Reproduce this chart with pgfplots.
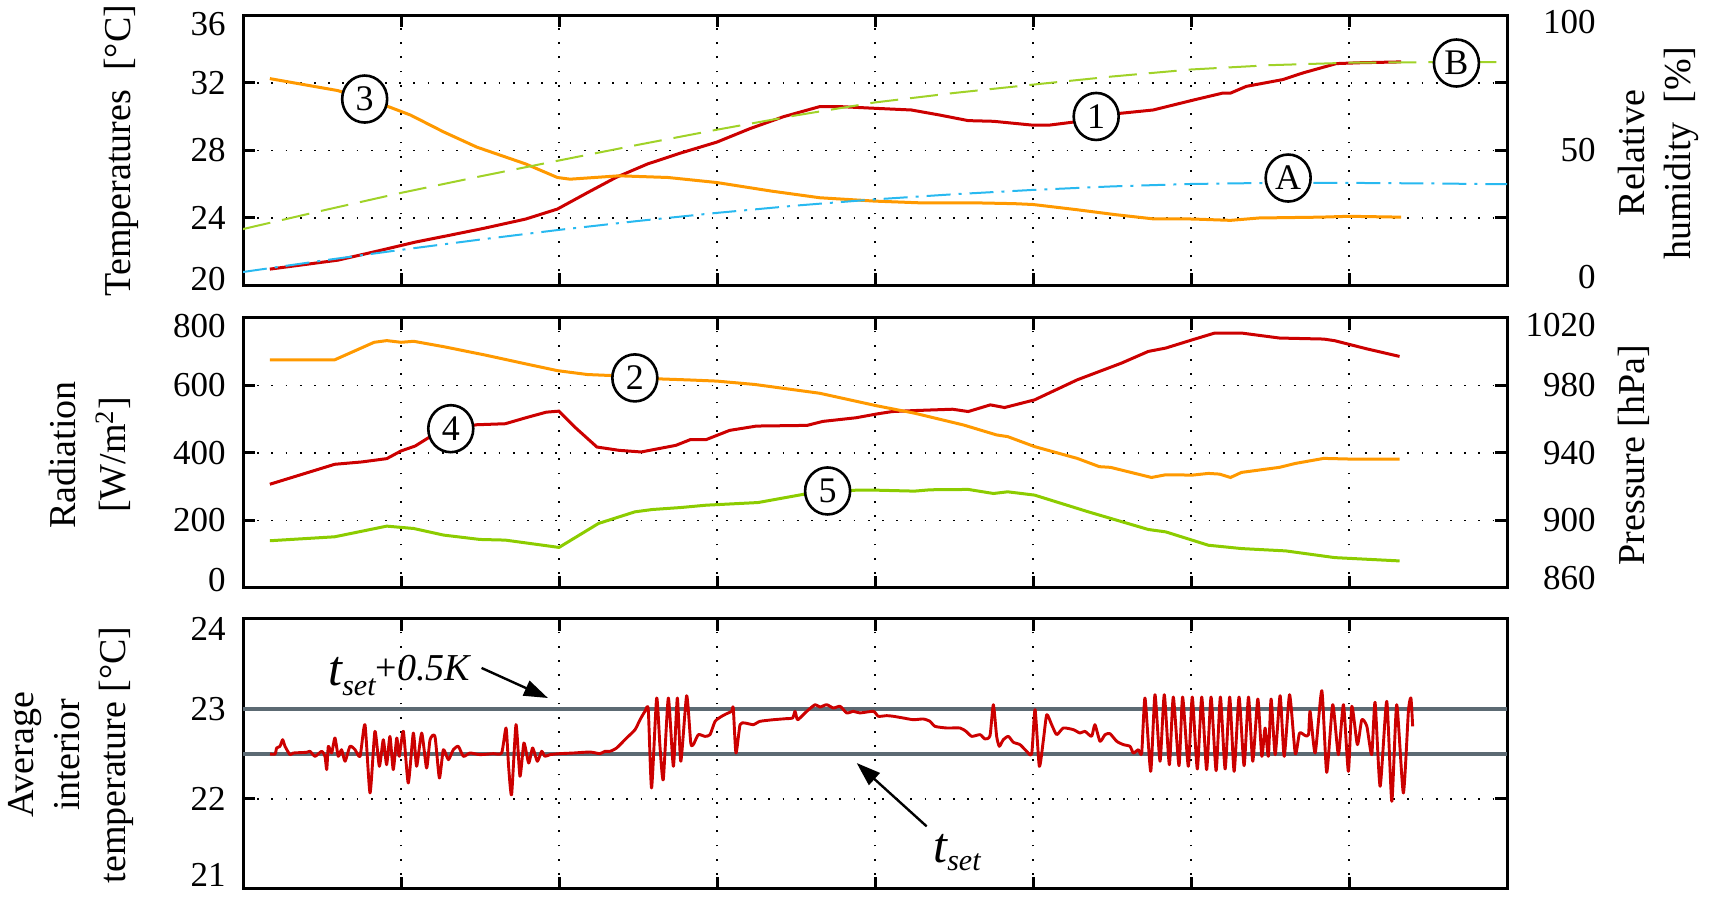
\documentclass[border=0pt]{standalone}
\usepackage{fontspec}
\setmainfont{Liberation Serif}
\usepackage{pgfplots}
\pgfplotsset{compat=1.18}
\usetikzlibrary{arrows.meta,shapes.geometric}
\definecolor{cred}{RGB}{204,0,0}
\definecolor{corange}{RGB}{255,153,0}
\definecolor{cgreen}{RGB}{140,204,0}
\definecolor{cgreenB}{RGB}{160,210,40}
\definecolor{cblue}{RGB}{40,185,240}
\definecolor{cgray}{RGB}{92,106,115}
\newcommand{\up}[2]{\raisebox{#1}[\height][\depth]{#2}}
\pgfplotsset{
 panel/.style={
  scale only axis, width=632pt, height=135pt,
  xmin=0, xmax=8, xtick={1,2,3,4,5,6,7}, xticklabels={},
  grid=major,
  major grid style={black, line width=0.9pt, dash pattern=on 0.9pt off 6.2pt},
  axis line style={line width=1.5pt},
  every tick/.style={black, line width=1.5pt},
  major tick length=6pt,
  tick align=inside,
  xtick pos=both, ytick pos=both, yticklabel pos=left,
  ticklabel style={font=\fontsize{17.5}{17.5}\selectfont},
  yticklabel style={inner sep=0pt, anchor=east, xshift=-8.5pt},
  /pgf/number format/assume math mode=true,
  /pgf/number format/1000 sep={},
 },
 panelright/.style={
  scale only axis, width=632pt, height=135pt,
  xmin=0, xmax=8, hide x axis,
  axis y line*=right, y axis line style={draw=none},
  major tick length=0pt,
  ticklabel style={font=\fontsize{17.5}{17.5}\selectfont},
  yticklabel style={inner sep=0pt, anchor=east, xshift=44.5pt},
  /pgf/number format/assume math mode=true,
  /pgf/number format/1000 sep={},
 },
}
\tikzset{circ/.style={ellipse, draw=black, line width=1.3pt, fill=white, inner sep=0pt,
  minimum width=22.5pt, minimum height=23.5pt, font=\fontsize{18}{18}\selectfont}}
\begin{document}
\begin{tikzpicture}
\useasboundingbox (0,0) rectangle (857.5pt,-448.5pt);
% ---------------- TOP PANEL ----------------
\begin{axis}[panel, at={(121.5pt,-7.75pt)}, anchor=north west,
  ymin=20, ymax=36, ytick={20,24,28,32,36},
  yticklabels={\up{3pt}{20},24,28,32,\up{-4.5pt}{36}}]
\addplot[cred, line width=1.5pt] coordinates {
(0.17,20.97)(0.6,21.5)(0.86,22.06)(1.09,22.57)(1.32,23.0)(1.53,23.4)(1.79,23.94)
(1.99,24.53)(2.18,25.5)(2.36,26.4)(2.56,27.2)(2.77,27.85)(3.0,28.5)(3.21,29.3)
(3.42,30.0)(3.65,30.6)(3.78,30.6)(4.0,30.5)(4.23,30.4)(4.41,30.1)(4.59,29.77)
(4.75,29.73)(5.0,29.5)(5.1,29.5)(5.27,29.7)(5.55,30.2)(5.76,30.4)(6.02,31.0)
(6.2,31.4)(6.25,31.4)(6.35,31.8)(6.58,32.2)(6.71,32.6)(6.92,33.15)(7.07,33.2)(7.33,33.25)};
\addplot[corange, line width=1.5pt] coordinates {
(0.17,32.26)(0.6,31.55)(0.92,30.6)(1.06,30.1)(1.27,29.1)(1.48,28.2)(1.79,27.2)
(1.99,26.4)(2.07,26.3)(2.38,26.5)(2.69,26.4)(3.0,26.1)(3.34,25.6)(3.65,25.2)
(4.0,25.0)(4.28,24.9)(4.62,24.9)(4.88,24.85)(5.0,24.8)(5.27,24.5)(5.52,24.2)
(5.76,23.95)(6.01,23.94)(6.25,23.86)(6.43,24.0)(6.82,24.05)(7.0,24.1)(7.33,24.05)};
\end{axis}
\begin{axis}[panelright, at={(121.5pt,-7.75pt)}, anchor=north west,
  ymin=0, ymax=100, ytick={0,50,100},
  yticklabels={\up{4pt}{0},50,\up{-3.5pt}{100}}]
\addplot[cgreenB, line width=1pt, dash pattern=on 14pt off 6pt] coordinates {
(0,20.9)(0.5,27.7)(1,34.3)(1.5,40.4)(2,46.3)(2.5,52.1)(3,57.7)(3.5,63)(4,67.8)
(4.5,71.3)(5,74.4)(5.5,77.4)(6,80)(6.5,81.6)(7,82.5)(7.5,82.7)(8,82.7)};
\addplot[cblue, line width=1pt, dash pattern=on 12pt off 4pt on 1.5pt off 4pt] coordinates {
(0,5)(0.5,9.2)(1,13.2)(1.5,17)(2,20.6)(2.5,23.9)(3,26.9)(3.5,29.6)(4,31.9)
(4.5,33.8)(5,35.4)(5.5,36.7)(6,37.6)(6.5,38)(7,38)(7.5,37.8)(8,37.5)};
\node[circ] at (axis cs:0.77,69.06) {3};
\node[circ] at (axis cs:5.40,62.6) {1};
\node[circ] at (axis cs:6.615,39.8) {A};
\node[circ] at (axis cs:7.68,82.4) {B};
\end{axis}
% ---------------- MIDDLE PANEL ----------------
\begin{axis}[panel, at={(121.5pt,-159pt)}, anchor=north west,
  ymin=0, ymax=800, ytick={0,200,400,600,800},
  yticklabels={\up{4pt}{0},200,400,600,\up{-4pt}{800}}]
\addplot[cred, line width=1.5pt] coordinates {
(0.17,307.4)(0.58,366.5)(0.75,373.4)(0.91,383.3)(1.0,406)(1.09,420.7)(1.18,447)
(1.3,470)(1.48,483.7)(1.66,486.7)(1.79,504.4)(1.92,521)(2.0,524)(2.1,476.8)
(2.24,417.7)(2.38,407.9)(2.52,403)(2.74,422.7)(2.83,439.4)(2.93,439.4)(3.08,467)
(3.25,479.8)(3.57,481.8)(3.67,493.6)(3.88,504.4)(4.02,516.3)(4.11,522.8)(4.25,525.7)
(4.49,529.7)(4.59,522.8)(4.73,542.6)(4.82,534.7)(5.01,557.4)(5.28,616.8)(5.56,666.3)
(5.73,701)(5.84,710.9)(6.01,735.6)(6.15,755.4)(6.32,755.4)(6.56,740.6)(6.84,737.6)
(6.91,732.7)(7.11,708.9)(7.32,686.1)};
\addplot[cgreen, line width=1.5pt] coordinates {
(0.17,140)(0.58,151.7)(0.91,183.3)(1.08,176.3)(1.27,156.7)(1.5,143.8)(1.66,141.9)
(2.0,120.2)(2.25,191.2)(2.48,225.6)(2.59,232.5)(2.77,238.4)(2.93,245.3)(3.26,253.2)
(3.55,277.8)(3.7,287)(3.88,289.7)(4.02,289.7)(4.25,287)(4.35,291)(4.59,292)(4.75,280)
(4.84,285)(5.01,275.2)(5.35,225.7)(5.73,173.3)(5.84,166.3)(6.11,126.7)(6.32,116.8)
(6.6,109.9)(6.91,90)(7.32,80.2)};
\end{axis}
\begin{axis}[panelright, at={(121.5pt,-159pt)}, anchor=north west,
  ymin=860, ymax=1020, ytick={860,900,940,980,1020},
  yticklabels={\up{5pt}{860},900,940,980,\up{-3.5pt}{1020}}]
\addplot[corange, line width=1.5pt] coordinates {
(0.17,995.2)(0.58,995.2)(0.83,1005.6)(0.91,1006.6)(1.0,1005.6)(1.08,1006.2)(1.27,1003.0)
(1.53,998.1)(1.79,992.8)(1.99,988.8)(2.18,986.5)(2.33,985.9)(2.64,983.9)(2.82,983.3)
(3.0,982.6)(3.24,980.6)(3.65,975.4)(4.01,968)(4.25,963.6)(4.56,956.6)(4.77,950.7)
(4.84,949.7)(5.01,943.8)(5.28,936.8)(5.42,931.9)(5.49,931.5)(5.75,925.5)(5.84,927.1)
(6.01,926.9)(6.11,927.9)(6.18,927.5)(6.25,925.5)(6.32,928.5)(6.56,931.5)(6.66,933.8)
(6.84,936.8)(7.01,936.4)(7.32,936.4)};
\node[circ] at (axis cs:2.48,984.5) {2};
\node[circ] at (axis cs:1.315,954.4) {4};
\node[circ] at (axis cs:3.70,917.5) {5};
\end{axis}
% ---------------- BOTTOM PANEL ----------------
\begin{axis}[panel, at={(121.5pt,-309.5pt)}, anchor=north west,
  ymin=21, ymax=24, ytick={21,22,23,24},
  yticklabels={\up{7pt}{21},22,23,\up{-5pt}{24}}]
\addplot[cgray, line width=2.3pt] coordinates {(0,23)(8,23)};
\addplot[cgray, line width=2.3pt] coordinates {(0,22.5)(8,22.5)};
\addplot[cred, line width=1.45pt, line join=round, smooth, tension=0.35] coordinates {
(0.171,22.50)(0.203,22.50)(0.213,22.567)(0.234,22.585)(0.251,22.659)(0.266,22.585)
(0.297,22.493)(0.319,22.511)(0.403,22.519)(0.424,22.530)(0.456,22.474)(0.498,22.530)
(0.519,22.474)(0.530,22.326)(0.540,22.585)(0.561,22.511)(0.582,22.678)(0.603,22.474)
(0.624,22.548)(0.646,22.419)(0.677,22.585)(0.709,22.548)(0.741,22.474)(0.772,22.826)
(0.804,22.067)(0.835,22.752)(0.863,22.363)(0.888,22.659)(0.909,22.381)(0.930,22.696)
(0.951,22.326)(0.973,22.678)(0.989,22.474)(1.015,22.752)(1.046,22.178)(1.078,22.733)
(1.099,22.363)(1.131,22.733)(1.162,22.344)(1.184,22.659)(1.215,22.696)(1.243,22.233)
(1.268,22.548)(1.300,22.437)(1.331,22.548)(1.363,22.585)(1.395,22.474)(1.437,22.511)
(1.500,22.493)(1.584,22.504)(1.637,22.511)(1.665,22.789)(1.681,22.363)(1.700,22.048)
(1.728,22.826)(1.753,22.252)(1.778,22.622)(1.808,22.400)(1.833,22.567)(1.863,22.419)
(1.890,22.530)(1.911,22.474)(1.943,22.493)(2.006,22.504)(2.091,22.511)(2.196,22.522)
(2.259,22.504)(2.291,22.530)(2.323,22.530)(2.365,22.567)(2.428,22.678)(2.481,22.770)
(2.513,22.881)(2.544,22.974)(2.565,22.993)(2.586,22.122)(2.618,23.122)(2.639,22.585)
(2.660,22.215)(2.692,23.122)(2.724,22.363)(2.749,23.122)(2.771,22.419)(2.808,23.148)
(2.834,22.622)(2.850,22.604)(2.882,22.715)(2.924,22.696)(2.956,22.715)(2.988,22.863)
(3.030,22.919)(3.061,22.948)(3.093,22.974)(3.103,23.011)(3.120,22.511)(3.146,22.826)
(3.177,22.844)(3.230,22.826)(3.272,22.863)(3.357,22.881)(3.441,22.893)(3.479,22.900)
(3.494,22.974)(3.509,22.881)(3.536,22.919)(3.568,22.974)(3.621,23.048)(3.652,23.022)
(3.694,23.048)(3.737,23.011)(3.779,23.030)(3.821,22.956)(3.863,22.974)(3.905,22.956)
(3.990,22.974)(4.021,22.919)(4.074,22.926)(4.116,22.919)(4.179,22.900)(4.243,22.881)
(4.306,22.889)(4.348,22.863)(4.380,22.807)(4.454,22.789)(4.538,22.789)(4.576,22.752)
(4.612,22.696)(4.665,22.715)(4.696,22.667)(4.728,22.704)(4.749,23.048)(4.770,22.696)
(4.787,22.585)(4.812,22.659)(4.844,22.696)(4.876,22.630)(4.918,22.604)(4.960,22.530)
(4.992,22.504)(5.013,22.993)(5.040,22.363)(5.066,22.659)(5.087,22.937)(5.118,22.826)
(5.150,22.715)(5.192,22.789)(5.256,22.770)(5.297,22.733)(5.329,22.752)(5.371,22.696)
(5.392,22.826)(5.424,22.641)(5.456,22.715)(5.487,22.726)(5.530,22.641)(5.572,22.604)
(5.614,22.585)(5.635,22.511)(5.667,22.548)(5.688,22.511)(5.709,23.122)(5.745,22.307)
(5.772,23.159)(5.804,22.419)(5.831,23.159)(5.863,22.381)(5.888,23.133)(5.924,22.370)
(5.947,23.133)(5.983,22.363)(6.008,23.133)(6.040,22.333)(6.068,23.133)(6.099,22.326)
(6.127,23.133)(6.159,22.315)(6.186,23.133)(6.216,22.333)(6.245,23.133)(6.273,22.307)
(6.304,23.133)(6.336,22.370)(6.364,23.133)(6.391,22.419)(6.423,23.111)(6.448,22.474)
(6.469,22.789)(6.490,22.474)(6.507,23.111)(6.533,22.493)(6.564,23.148)(6.590,22.474)
(6.624,23.159)(6.660,22.504)(6.687,22.733)(6.723,22.704)(6.744,22.715)(6.754,22.974)
(6.786,22.511)(6.828,23.204)(6.859,22.296)(6.897,23.048)(6.933,22.493)(6.965,23.048)
(6.996,22.307)(7.018,23.030)(7.053,22.604)(7.081,22.881)(7.113,22.807)(7.144,22.493)
(7.165,23.074)(7.197,22.141)(7.239,23.085)(7.271,21.974)(7.302,23.048)(7.344,22.067)
(7.376,22.974)(7.392,23.122)(7.403,22.807)};
\draw[line width=1.2pt, -{Triangle[length=12pt,width=8pt]}] (axis cs:1.51,23.456) -- (axis cs:1.93,23.122);
\draw[line width=1.2pt, -{Triangle[length=12pt,width=8pt]}] (axis cs:4.327,21.696) -- (axis cs:3.884,22.4);
\end{axis}
% ---------------- LABELS ----------------
\node[rotate=90, font=\fontsize{19}{23}\selectfont] at (60.5pt,-75.25pt) {Temperatures\ \ [°C]};
\node[rotate=90, align=center, font=\fontsize{19}{23}\selectfont] at (829pt,-76.5pt) {Relative\\humidity\ \ [\%]};
\node[rotate=90, align=center, font=\fontsize{19}{25}\selectfont] at (45pt,-227.5pt) {Radiation\\{[}W/m\textsuperscript{2}]};
\node[rotate=90, font=\fontsize{19}{23}\selectfont] at (817pt,-227.5pt) {Pressure [hPa]};
\node[rotate=90, align=center, font=\fontsize{19}{23}\selectfont] at (35.75pt,-377.5pt) {Average\\interior\\temperature [°C]};
\node[anchor=base west, inner sep=0pt] at (164pt,-340.5pt)
 {\raisebox{-2.5pt}{\fontsize{25}{25}\selectfont\itshape t}\raisebox{-7.5pt}{\fontsize{15}{15}\selectfont\itshape set}{\fontsize{19}{19}\selectfont +\itshape 0.5K}};
\node[anchor=base west, inner sep=0pt] at (466.5pt,-431.5pt)
 {{\fontsize{25}{25}\selectfont\itshape t}\raisebox{-4pt}{\fontsize{15}{15}\selectfont\itshape set}};
\end{tikzpicture}
\end{document}
